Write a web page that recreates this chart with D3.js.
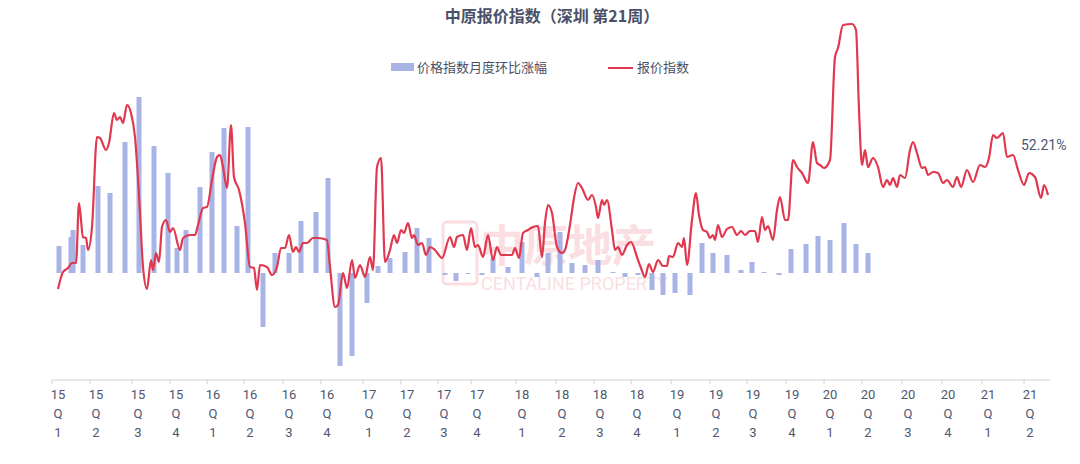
<!DOCTYPE html>
<html><head><meta charset="utf-8">
<script src="https://cdn.jsdelivr.net/npm/d3@7"></script>
<style>body{margin:0;background:#fff}svg{font-family:"Noto Sans CJK SC","Noto Sans",sans-serif}</style>
</head><body><svg id="c" width="1080" height="464"></svg>
<script>
// x positions are in "week position" units
const tickPos = [58,96,138,176,213,250,289,327,369,407,444,477,522,562,600,637,677,716,753,792,830,868,908,948,988,1030];
const tickYear = ["15","15","15","15","16","16","16","16","17","17","17","17","18","18","18","18","19","19","19","19","20","20","20","20","21","21"];
const tickQ = ["1","2","3","4","1","2","3","4","1","2","3","4","1","2","3","4","1","2","3","4","1","2","3","4","1","2"];
const barX = [59,71,73,83,98,110,125,139,154,168,177,186,200,212,224,237,248,263,275,289,301,316,328,340,352,367,378,390,405,417,429,445,456,468,482,493,508,522,537,548,560,572,585,598,613,625,638,652,663,675,690,702,713,727,741,752,764,779,791,806,818,830,844,856,868];
const barV = [27,36,43,28,87,80,131,176,127,100,25,43,86,121,145,47,146,-54,20,20,52,61,95,-93,-83,-30,7,15,21,45,35,-2,-8,-1,-2,15,6,31,-4,20,41,10,8,13,1,-4,-2,-17,-22,-20,-22,30,20,18,3,11,1,-2,24,29,37,33,50,29,20];
const lineX = [58,63,68,72,76,79,83,86,88,92,97,100,106,109,114,117,120,123,127,131,135,140,143,147,151,153,156,159,162,166,170,173,180,183,190,195,198,203,207,212,217,220,223,227,231,234,239,245,250,254,257,260,267,272,277,281,285,289,293,296,299,303,307,313,318,327,330,335,338,343,347,352,355,360,365,370,373,377,381,385,390,394,397,401,404,408,412,414,418,422,426,430,435,442,450,454,457,463,467,471,475,478,483,488,493,497,501,505,512,515,519,523,528,533,538,542,545,548,552,557,562,565,570,574,578,582,588,592,596,598,602,604,607,612,615,618,622,627,631,637,641,645,649,653,658,663,667,669,673,678,682,684,687,692,696,699,703,707,710,713,715,718,722,727,732,737,741,745,750,755,758,762,765,768,773,777,780,785,788,793,797,802,808,813,817,820,824,830,835,838,843,852,856,859,862,865,868,873,878,883,887,890,893,897,900,905,910,913,917,922,925,928,933,938,943,947,953,957,961,967,973,980,985,989,993,997,1003,1007,1013,1018,1024,1029,1035,1041,1044,1048];
const lineV = [91,108,112,117,117,177,143,142,130,153,243,242,230,237,267,260,263,257,275,267,243,167,113,91,120,110,127,118,153,160,148,152,130,142,145,145,155,172,173,200,223,225,213,192,255,203,190,157,113,112,90,115,113,105,113,132,132,145,128,133,128,137,137,142,142,140,113,73,75,107,92,120,102,115,103,123,110,213,222,118,130,145,137,150,147,157,142,145,135,137,125,133,130,122,143,133,143,145,130,152,133,135,123,145,120,133,125,125,125,132,122,147,150,153,154,123,157,175,167,133,127,130,155,182,197,192,180,185,173,162,180,175,180,150,130,133,125,135,138,123,112,103,116,108,120,114,114,124,123,137,133,142,115,160,187,165,150,148,142,145,140,155,143,151,153,145,149,145,149,149,138,163,150,154,140,170,183,160,160,220,213,207,197,238,217,215,212,220,323,332,355,356,350,270,215,230,213,222,213,193,200,195,202,193,205,202,230,238,227,212,213,205,208,207,197,200,193,203,193,210,198,215,213,222,245,242,247,223,225,210,195,207,203,182,195,185];
const lineLabel = "52.21%";

const svg = d3.select("#c");
const x = d3.scaleLinear().domain([58,1048]).range([58,1048]);
const yb = d3.scaleLinear().domain([-100,100]).range([373,173]);
const yl = d3.scaleLinear().domain([0,360]).range([380,20]);

// watermark
const wm = svg.append("g").attr("fill","#f2a3ad").attr("opacity",0.35);
wm.append("rect").attr("x",443).attr("y",222).attr("width",34).attr("height",62).attr("rx",4).attr("fill","none").attr("stroke","#f2a3ad").attr("stroke-width",3);
wm.append("text").attr("x",480).attr("y",262).attr("font-size",44).attr("font-weight","bold").text("中原地产");
wm.append("text").attr("x",481).attr("y",290).attr("font-size",18).attr("font-family","Roboto,sans-serif").text("CENTALINE PROPERTY");

// bars
svg.append("g").selectAll("rect").data(barX).join("rect")
  .attr("x",(d)=>x(d)-2.5).attr("width",5)
  .attr("y",(d,i)=>Math.min(yb(barV[i]),yb(0)))
  .attr("height",(d,i)=>Math.max(1,Math.abs(yb(barV[i])-yb(0))))
  .attr("fill","#a8b4e6");

// line
const n = Math.min(lineX.length, lineV.length);
const pts = lineX.slice(0,n).map((d,i)=>[d,lineV[i]]);
svg.append("path").datum(pts).attr("fill","none").attr("stroke","#e0384f").attr("stroke-width",2.2)
  .attr("d",d3.line().x(d=>x(d[0])).y(d=>yl(d[1])).curve(d3.curveMonotoneX));
svg.append("text").attr("x",1021).attr("y",150).attr("font-size",14).attr("fill","#4d5670").attr("font-family","Roboto,sans-serif").text(lineLabel);

// axis
svg.append("line").attr("x1",52).attr("x2",1050).attr("y1",380).attr("y2",380).attr("stroke","#d0d0d0");
const tg = svg.append("g").attr("fill","#4f566e").attr("font-size",13).attr("font-family","Roboto,sans-serif").attr("text-anchor","middle");
tickPos.forEach((p,i)=>{
  svg.append("line").attr("x1",x(p)-6).attr("x2",x(p)-6).attr("y1",380).attr("y2",384).attr("stroke","#d0d0d0");
  tg.append("text").attr("x",x(p)).attr("y",399).text(tickYear[i]);
  tg.append("text").attr("x",x(p)).attr("y",418).text("Q");
  tg.append("text").attr("x",x(p)).attr("y",437).text(tickQ[i]);
});

// title & legend
svg.append("text").attr("x",552).attr("y",22).attr("text-anchor","middle").attr("font-size",16).attr("font-weight","bold").attr("fill","#4a5068").text("中原报价指数（深圳 第21周）");
svg.append("rect").attr("x",391).attr("y",63).attr("width",23).attr("height",8).attr("fill","#a8b4e6");
svg.append("text").attr("x",417).attr("y",72).attr("font-size",13).attr("fill","#4a5068").text("价格指数月度环比涨幅");
svg.append("line").attr("x1",608).attr("x2",633).attr("y1",68).attr("y2",68).attr("stroke","#e0384f").attr("stroke-width",2);
svg.append("text").attr("x",637).attr("y",72).attr("font-size",13).attr("fill","#4a5068").text("报价指数");
</script></body></html>
